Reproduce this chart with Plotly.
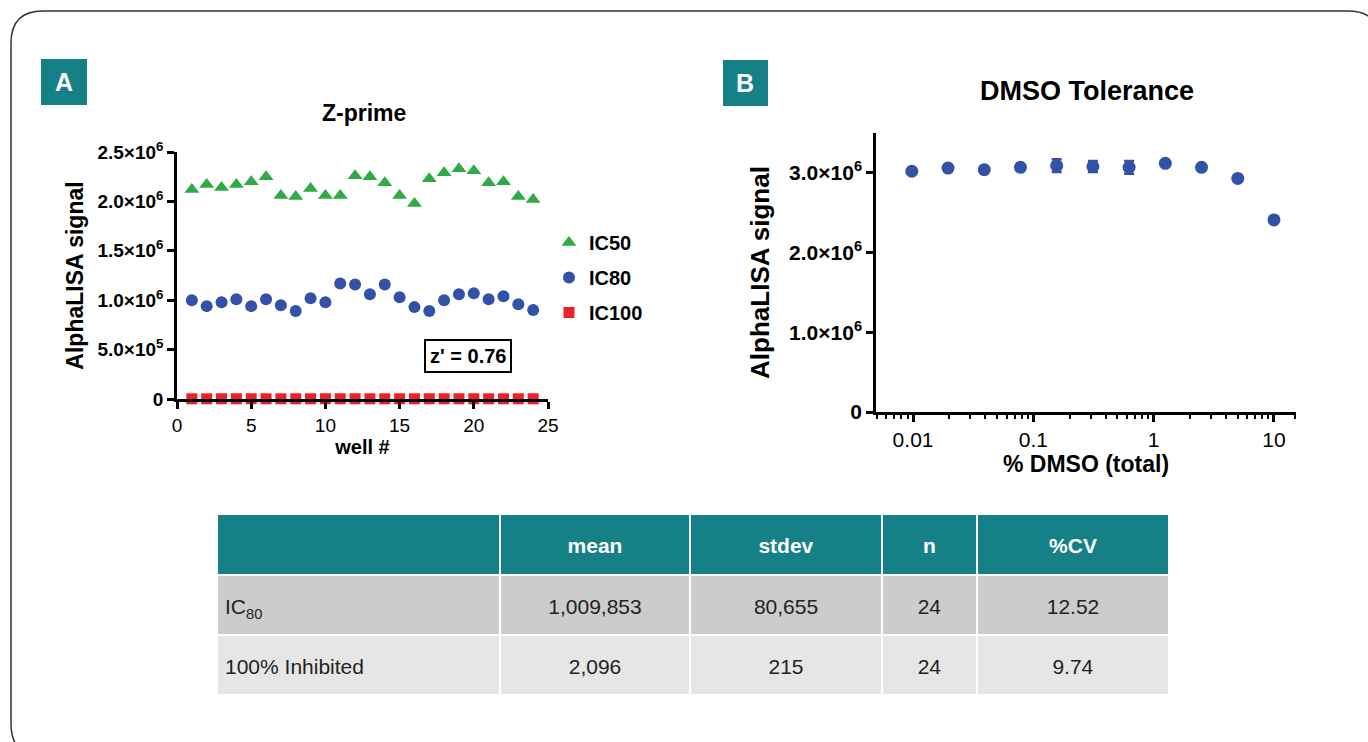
import plotly.graph_objects as go

W, H = 1368, 742

# ---------------- data ----------------
wells = list(range(1, 25))
ic50 = [2.12, 2.17, 2.14, 2.17, 2.20, 2.25, 2.06, 2.05, 2.13, 2.06, 2.06, 2.26,
        2.25, 2.19, 2.06, 1.98, 2.23, 2.29, 2.33, 2.31, 2.19, 2.20, 2.05, 2.02]
ic50 = [v * 1e6 for v in ic50]
ic80 = [1.00, 0.94, 0.98, 1.01, 0.94, 1.01, 0.95, 0.89, 1.02, 0.98, 1.17, 1.16,
        1.06, 1.16, 1.03, 0.93, 0.89, 1.00, 1.06, 1.07, 1.01, 1.04, 0.96, 0.90]
ic80 = [v * 1e6 for v in ic80]
ic100 = [2096] * 24

dmso_pct = [0.009765625, 0.01953125, 0.0390625, 0.078125, 0.15625, 0.3125,
            0.625, 1.25, 2.5, 5, 10]
dmso_signal = [3.02, 3.06, 3.04, 3.07, 3.09, 3.08, 3.07, 3.12, 3.07, 2.93, 2.41]
dmso_signal = [v * 1e6 for v in dmso_signal]
dmso_err = [0, 0, 0, 0, 0.08, 0.07, 0.08, 0, 0, 0, 0]
dmso_err = [v * 1e6 for v in dmso_err]

a_yticks = [0, 5e5, 1e6, 1.5e6, 2e6, 2.5e6]
a_yticktext = ["0", "5.0×10<sup>5</sup>", "1.0×10<sup>6</sup>", "1.5×10<sup>6</sup>",
               "2.0×10<sup>6</sup>", "2.5×10<sup>6</sup>"]
b_yticks = [0, 1e6, 2e6, 3e6]
b_yticktext = ["0", "1.0×10<sup>6</sup>", "2.0×10<sup>6</sup>", "3.0×10<sup>6</sup>"]

table_header = ["", "mean", "stdev", "n", "%CV"]
table_rows = ["IC<sub>80</sub>", "100% Inhibited"]
table_mean = ["1,009,853", "2,096"]
table_stdev = ["80,655", "215"]
table_n = ["24", "24"]
table_cv = ["12.52", "9.74"]

# ---------------- colours ----------------
TEAL = "#168087"
GREEN = "#2FAA45"
BLUE = "#3451A8"
RED = "#EE2027"
BOLD = "Liberation Sans"
TFONT = "Liberation Sans"


def px(x):
    return x / W


def py(y):
    return 1 - y / H


def cell(t, bold=False):
    # small invisible leading line pushes the text toward the vertical middle of the cell
    inner = "<b>%s</b>" % t if bold else t
    return '\u00a0<br><span style="font-size:21px">%s</span>' % inner


fig = go.Figure()

# Panel A traces
fig.add_trace(go.Scatter(x=wells, y=ic50, mode="markers", name="<b>IC50</b>",
                         legendgroup="a", cliponaxis=False,
                         marker=dict(symbol="triangle-up", size=13, color=GREEN),
                         xaxis="x", yaxis="y"))
fig.add_trace(go.Scatter(x=wells, y=ic80, mode="markers", name="<b>IC80</b>",
                         legendgroup="b", cliponaxis=False,
                         marker=dict(symbol="circle", size=12, color=BLUE),
                         xaxis="x", yaxis="y"))
fig.add_trace(go.Scatter(x=wells, y=ic100, mode="markers", name="<b>IC100</b>",
                         legendgroup="c", cliponaxis=False,
                         marker=dict(symbol="square", size=11, color=RED),
                         xaxis="x", yaxis="y"))

# Panel B trace
fig.add_trace(go.Scatter(x=dmso_pct, y=dmso_signal, mode="markers", showlegend=False,
                         cliponaxis=False,
                         error_y=dict(type="data", array=dmso_err, color=BLUE,
                                      thickness=2.5, width=5),
                         marker=dict(symbol="circle", size=13, color=BLUE),
                         xaxis="x2", yaxis="y2"))

# Table
fig.add_trace(go.Table(
    domain=dict(x=[px(217), px(1169)], y=[py(697), py(514)]),
    columnwidth=[283, 190, 192, 95, 192],
    header=dict(values=[cell(h, bold=True) for h in table_header],
                fill_color=TEAL, line=dict(color="white", width=2),
                align=["left", "center"], height=61,
                font=dict(family=TFONT, size=14, color="white")),
    cells=dict(values=[[cell(v) for v in col] for col in
                       [table_rows, table_mean, table_stdev, table_n, table_cv]],
               fill_color=[["#CCCCCC", "#E6E6E6"]] * 5,
               line=dict(color="white", width=2),
               align=["left", "center"], height=60,
               font=dict(family=TFONT, size=14, color="#222222")),
))

axis_common = dict(showline=True, linecolor="black", linewidth=2.5, ticks="outside",
                   tickcolor="black", tickwidth=2.5, ticklen=7, showgrid=False,
                   zeroline=False, automargin=False,
                   tickfont=dict(family=BOLD, size=19, color="black"))

fig.update_layout(
    width=W, height=H,
    margin=dict(l=0, r=0, t=0, b=0, autoexpand=False),
    paper_bgcolor="white", plot_bgcolor="white",
    showlegend=True,
    legend=dict(x=px(549), y=py(223), xanchor="left", yanchor="top",
                font=dict(family=BOLD, size=20, color="black"),
                tracegroupgap=6, itemwidth=30, bgcolor="rgba(0,0,0,0)"),
    xaxis=dict(domain=[px(177), px(548)], range=[0, 25], tickvals=[0, 5, 10, 15, 20, 25],
               anchor="y",
               title=dict(text="<b>well #</b>", font=dict(family=BOLD, size=20, color="black"),
                          standoff=4),
               **axis_common),
    yaxis=dict(domain=[py(399), py(152)], range=[0, 2.5e6], tickvals=a_yticks,
               ticktext=["<b>%s</b>" % t for t in a_yticktext], anchor="x",
               title=dict(text="<b>AlphaLISA signal</b>",
                          font=dict(family=BOLD, size=23, color="black"), standoff=8),
               **axis_common),
    xaxis2=dict(domain=[px(876), px(1296)], type="log", range=[-2.308, 1.183],
                tickvals=[0.01, 0.1, 1, 10], ticktext=["0.01", "0.1", "1", "10"],
                anchor="y2",
                minor=dict(ticks="outside", ticklen=4, tickwidth=2, tickcolor="black",
                           showgrid=False,
                           tickvals=[0.005, 0.006, 0.007, 0.008, 0.009,
                                     0.02, 0.03, 0.04, 0.05, 0.06, 0.07, 0.08, 0.09,
                                     0.2, 0.3, 0.4, 0.5, 0.6, 0.7, 0.8, 0.9,
                                     2, 3, 4, 5, 6, 7, 8, 9, 15]),
                title=dict(text="<b>% DMSO (total)</b>",
                           font=dict(family=BOLD, size=23, color="black"), standoff=6),
                **{**axis_common, "tickfont": dict(family=BOLD, size=21, color="black")}),
    yaxis2=dict(domain=[py(412), py(133)], range=[0, 3.5e6], tickvals=b_yticks,
                ticktext=["<b>%s</b>" % t for t in b_yticktext], anchor="x2",
                title=dict(text="<b>AlphaLISA signal</b>",
                           font=dict(family=BOLD, size=26, color="black"), standoff=12),
                **{**axis_common, "tickfont": dict(family=BOLD, size=21, color="black")}),
)

# Titles and panel labels
fig.add_annotation(x=px(364), y=py(113), xref="paper", yref="paper", text="<b>Z-prime</b>",
                   xanchor="center", yanchor="middle",
                   showarrow=False, font=dict(family=BOLD, size=23, color="black"))
fig.add_annotation(x=px(1087), y=py(91), xref="paper", yref="paper",
                   text="<b>DMSO Tolerance</b>", xanchor="center", yanchor="middle",
                   showarrow=False, font=dict(family=BOLD, size=27, color="black"))

# z' box
fig.add_annotation(x=px(468), y=py(356), xref="paper", yref="paper", text="<b>z' = 0.76</b>",
                   xanchor="center", yanchor="middle",
                   showarrow=False, font=dict(family=BOLD, size=20, color="black"),
                   bordercolor="black", borderwidth=2, borderpad=4, bgcolor="white")

# Panel label boxes
for lab, x0, y0, x1, y1 in [("A", 41, 59, 87, 105), ("B", 723, 60, 768, 106)]:
    fig.add_shape(type="rect", xref="paper", yref="paper", x0=px(x0), x1=px(x1),
                  y0=py(y1), y1=py(y0), fillcolor=TEAL, line=dict(width=0))
    fig.add_annotation(x=px((x0 + x1) / 2), y=py((y0 + y1) / 2), xref="paper", yref="paper",
                       text="<b>%s</b>" % lab, showarrow=False,
                       xanchor="center", yanchor="middle",
                       font=dict(family="Liberation Sans", size=25, color="white"))

# Rounded outer border
r = 32
x0b, y0b, x1b, y1b = 11, 11, 1380, 756
path = (f"M {px(x0b + r)} {py(y0b)} L {px(x1b - r)} {py(y0b)} "
        f"Q {px(x1b)} {py(y0b)} {px(x1b)} {py(y0b + r)} "
        f"L {px(x1b)} {py(y1b - r)} Q {px(x1b)} {py(y1b)} {px(x1b - r)} {py(y1b)} "
        f"L {px(x0b + r)} {py(y1b)} Q {px(x0b)} {py(y1b)} {px(x0b)} {py(y1b - r)} "
        f"L {px(x0b)} {py(y0b + r)} Q {px(x0b)} {py(y0b)} {px(x0b + r)} {py(y0b)} Z")
fig.add_shape(type="path", xref="paper", yref="paper", path=path,
              line=dict(color="#333333", width=1.5), layer="below")

fig.write_html("out.html", config={"displayModeBar": False},
               post_script="document.body.style.margin='0';document.body.style.overflow='hidden';")
